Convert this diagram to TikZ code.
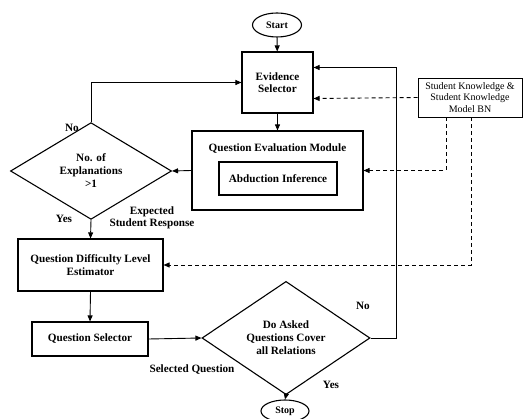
\documentclass[tikz,border=0pt]{standalone}
\usepackage{fontspec}
\setmainfont{Liberation Serif}
\usetikzlibrary{shapes.geometric,arrows.meta}

\tikzset{
    blk/.style={draw, line width=1.1pt, align=center, font=\bfseries\fontsize{11.2}{12.5}\selectfont},
    term/.style={draw, ellipse, line width=1.1pt, inner sep=0pt, font=\bfseries\fontsize{10}{11}\selectfont},
    decide/.style={draw, diamond, line width=1.1pt, inner sep=0pt, align=center, font=\bfseries\fontsize{11.2}{13}\selectfont},
    lbl/.style={font=\bfseries\fontsize{11.2}{12.5}\selectfont, align=center, inner sep=0pt},
    link/.style={line width=0.9pt, ->},
    dlink/.style={line width=0.9pt, ->, dashed, dash pattern=on 4pt off 3pt}
}

\begin{document}
\begin{tikzpicture}[x=1pt, y=-1pt, >={Triangle[length=6pt,width=5pt]}]
    \useasboundingbox (0,0) rectangle (531,419);
    % nodes
    \node[term, minimum width=49pt, minimum height=24pt] (start) at (277,25) {Start};
    \node[blk, minimum width=71pt, minimum height=61pt] (ev) at (277.5,82.5) {Evidence\\Selector};
    \node[draw, line width=0.9pt, align=center, font=\fontsize{10}{11.5}\selectfont, minimum width=104pt, minimum height=39pt, inner sep=1pt] (sk) at (470,97.5) {Student Knowledge \&\\Student Knowledge\\Model BN};
    \node[blk, minimum width=171pt, minimum height=79pt] (qem) at (277.5,170.5) {};
    \node[lbl] (qemt) at (277.5,149) {Question Evaluation Module};
    \node[blk, minimum width=118pt, minimum height=33pt] (abd) at (278,178.5) {Abduction Inference};
    \node[decide, minimum width=161pt, minimum height=82pt] (dia1) at (91,171) {No. of\\Explanations\\\textgreater1};
    \node[blk, minimum width=145pt, minimum height=52pt] (qdle) at (90.5,265) {Question Difficulty Level\\Estimator};
    \node[blk, minimum width=116pt, minimum height=34pt] (qs) at (90,339) {Question Selector};
    \node[decide, minimum width=168pt, minimum height=90pt] (dia2) at (286,338) {Do Asked\\Questions Cover\\all Relations};
    \node[term, minimum width=48pt, minimum height=22pt] (stop) at (285,411) {Stop};
    \coordinate (ret) at (396,338);
    % labels
    \node[lbl] (no1) at (72,128) {No};
    \node[lbl] (yes1) at (64,219) {Yes};
    \node[lbl] (resp) at (152,218) {Expected\\Student Response};
    \node[lbl] (no2) at (363,306) {No};
    \node[lbl] (yes2) at (331,385) {Yes};
    \node[lbl] (selq) at (192,370) {Selected Question};
    % flow
    \draw[link] (start) -- (ev);
    \draw[link] (ev) -- (qem);
    \draw[link] (qem.west) -- (dia1.east);
    \draw[link] (dia1.north) |- (ev.west);
    \draw[link] (dia1.south) -- (qdle.north);
    \draw[link] (qdle.south) -- (qs.north);
    \draw[link] (qs.east) -- (dia2.west);
    \draw[link] (dia2.south) -- (stop.north);
    \draw[link] (dia2.east) -- (ret) |- ([yshift=15pt]ev.east);
    % knowledge model
    \draw[dlink] (sk.west) -- ([yshift=-16pt]ev.east);
    \draw[dlink] ([xshift=-24pt]sk.south) |- (qem.east);
    \draw[dlink] ([xshift=1pt]sk.south) |- (qdle.east);
\end{tikzpicture}
\end{document}
